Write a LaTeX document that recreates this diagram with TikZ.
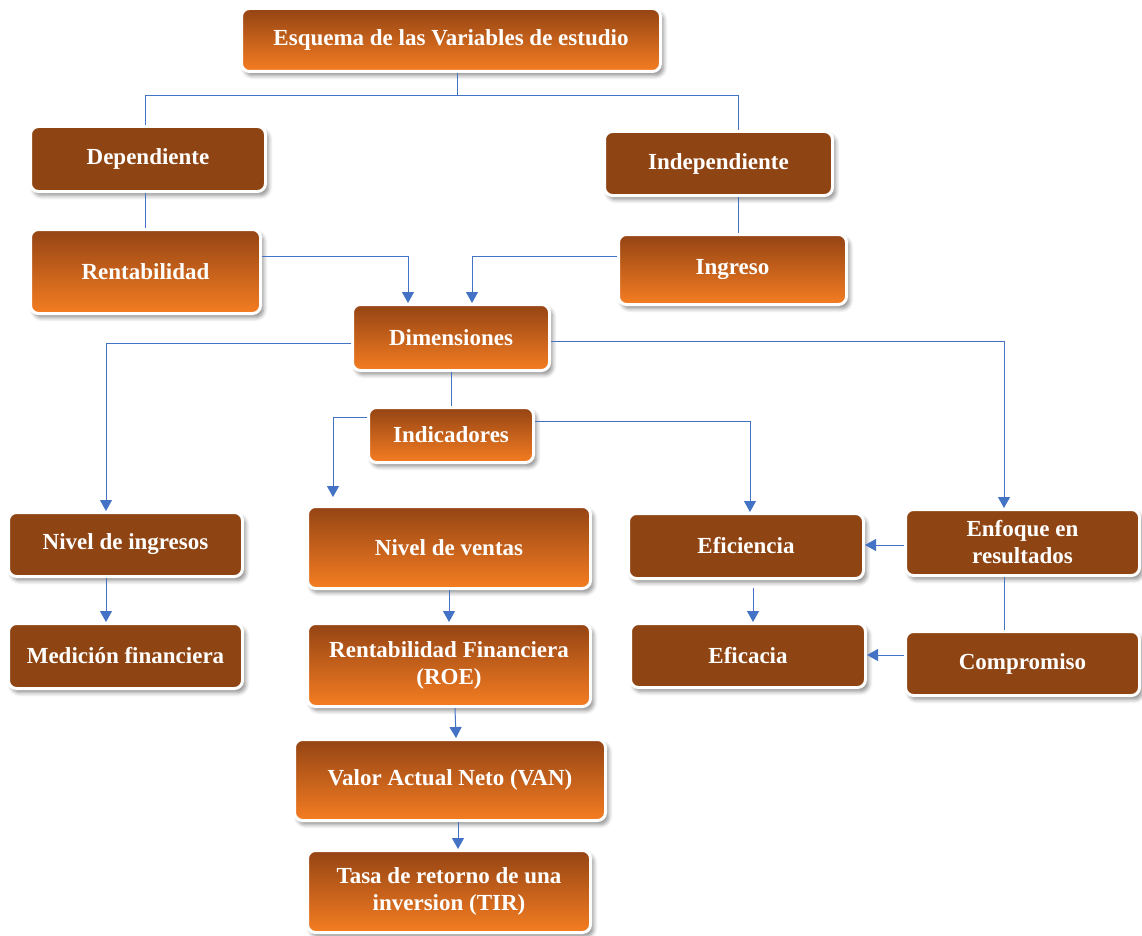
\documentclass[tikz,border=0pt]{standalone}
\usepackage{fontspec}
\setmainfont{Liberation Serif}
\usetikzlibrary{arrows.meta,shadows.blur}

\definecolor{boxbrown}{RGB}{143,69,19}
\definecolor{gradtop}{RGB}{148,68,20}
\definecolor{gradbot}{RGB}{245,125,34}
\definecolor{linkblue}{RGB}{68,114,196}

\tikzset{
  basebox/.style={rounded corners=8pt, draw=white, line width=3pt,
    text=white, align=center, inner sep=2pt,
    font=\fontsize{23}{27}\selectfont\bfseries,
    blur shadow={shadow xshift=3pt, shadow yshift=-4pt, shadow blur radius=4pt,
      shadow blur steps=6, shadow opacity=45}},
  solidbox/.style={basebox, fill=boxbrown},
  gradbox/.style={basebox, top color=gradtop, bottom color=gradbot},
  link/.style={draw=linkblue, line width=1pt},
  arrowlink/.style={link, -{Triangle[width=12pt,length=11pt]}},
}

\begin{document}
\begin{tikzpicture}[x=1pt, y=-1pt]
\useasboundingbox (0,0) rectangle (1142,936);

% boxes
\node[gradbox, minimum width=419pt, minimum height=63pt] (title) at (451,40) {Esquema de las Variables de estudio};
\node[solidbox, minimum width=235pt, minimum height=65pt] (dep) at (148,159) {Dependiente};
\node[solidbox, minimum width=228pt, minimum height=64pt] (ind) at (718.5,163.5) {Independiente};
\node[gradbox, minimum width=230pt, minimum height=84pt] (rent) at (145.5,271.5) {Rentabilidad};
\node[gradbox, minimum width=228pt, minimum height=70pt] (ing) at (732.5,269.5) {Ingreso};
\node[gradbox, minimum width=197pt, minimum height=66pt] (dim) at (451,337.5) {Dimensiones};
\node[gradbox, minimum width=165pt, minimum height=55pt] (indic) at (451,435) {Indicadores};
\node[solidbox, minimum width=234pt, minimum height=64pt] (ning) at (125.5,544.5) {Nivel de ingresos};
\node[solidbox, minimum width=234pt, minimum height=65pt] (med) at (125.5,656) {Medición financiera};
\node[gradbox, minimum width=283pt, minimum height=82pt] (nven) at (449,547.5) {Nivel de ventas};
\node[gradbox, minimum width=283pt, minimum height=83pt] (roe) at (449,665) {Rentabilidad Financiera\\(ROE)};
\node[gradbox, minimum width=311pt, minimum height=81pt] (van) at (450,780) {Valor Actual Neto (VAN)};
\node[gradbox, minimum width=283pt, minimum height=82pt] (tasa) at (449,891.5) {Tasa de retorno de una\\inversion (TIR)};
\node[solidbox, minimum width=235pt, minimum height=65pt] (efi) at (746,546) {Eficiencia};
\node[solidbox, minimum width=235pt, minimum height=64pt] (efa) at (748,655.5) {Eficacia};
\node[solidbox, minimum width=234pt, minimum height=66pt] (enf) at (1022.5,542.5) {Enfoque en\\resultados};
\node[solidbox, minimum width=234pt, minimum height=64pt] (comp) at (1022.5,663.5) {Compromiso};

% top split into the two kinds of variables
\draw[link] ([xshift=6pt]title.south) -- ++(0,23) coordinate (tj);
\draw[link] (tj) -| ([xshift=-3pt]dep.north);
\draw[link] (tj) -| ([xshift=19.5pt]ind.north);
\draw[link] ([xshift=-3pt]dep.south) -- ([xshift=-3pt]dep.south |- rent.north);
\draw[link] ([xshift=19.5pt]ind.south) -- ([xshift=19.5pt]ind.south |- ing.north);

% variables into dimensions
\draw[arrowlink] ([yshift=15.5pt]rent.east) -| ([xshift=-43pt]dim.north);
\draw[arrowlink] ([yshift=13.5pt]ing.west) -| ([xshift=21pt]dim.north);

% dimensions
\draw[arrowlink] ([yshift=-5.5pt]dim.west) -| ([xshift=-19.5pt]ning.north);
\draw[arrowlink] ([yshift=-3.5pt]dim.east) -| ([xshift=-18.5pt]enf.north);
\draw[link] (dim.south) -- (indic.north);

% indicators
\draw[arrowlink] ([yshift=18pt]indic.west) -| ([xshift=-116pt,yshift=8pt]nven.north);
\draw[arrowlink] ([yshift=14pt]indic.east) -| ([xshift=4pt]efi.north);

% chains
\draw[arrowlink] ([xshift=-19.5pt]ning.south) -- ([xshift=-19.5pt]med.north);
\draw[arrowlink] (nven.south) -- (roe.north);
\draw[arrowlink] ([xshift=6pt]roe.south) -- ([xshift=6pt]van.north);
\draw[arrowlink] ([xshift=8pt]van.south) -- ([xshift=9pt]tasa.north);
\draw[arrowlink] ([xshift=7pt,yshift=-8pt]efi.south) -- ([xshift=5pt]efa.north);
\draw[arrowlink] ([yshift=-2.5pt]enf.west) -- ([yshift=-2.5pt]enf.west -| efi.east);
\draw[link] ([xshift=-18.5pt]enf.south) -- ([xshift=-18.5pt]enf.south |- comp.north);
\draw[arrowlink] ([yshift=8.5pt]comp.west) -- ([yshift=8.5pt]comp.west -| efa.east);
\end{tikzpicture}
\end{document}
